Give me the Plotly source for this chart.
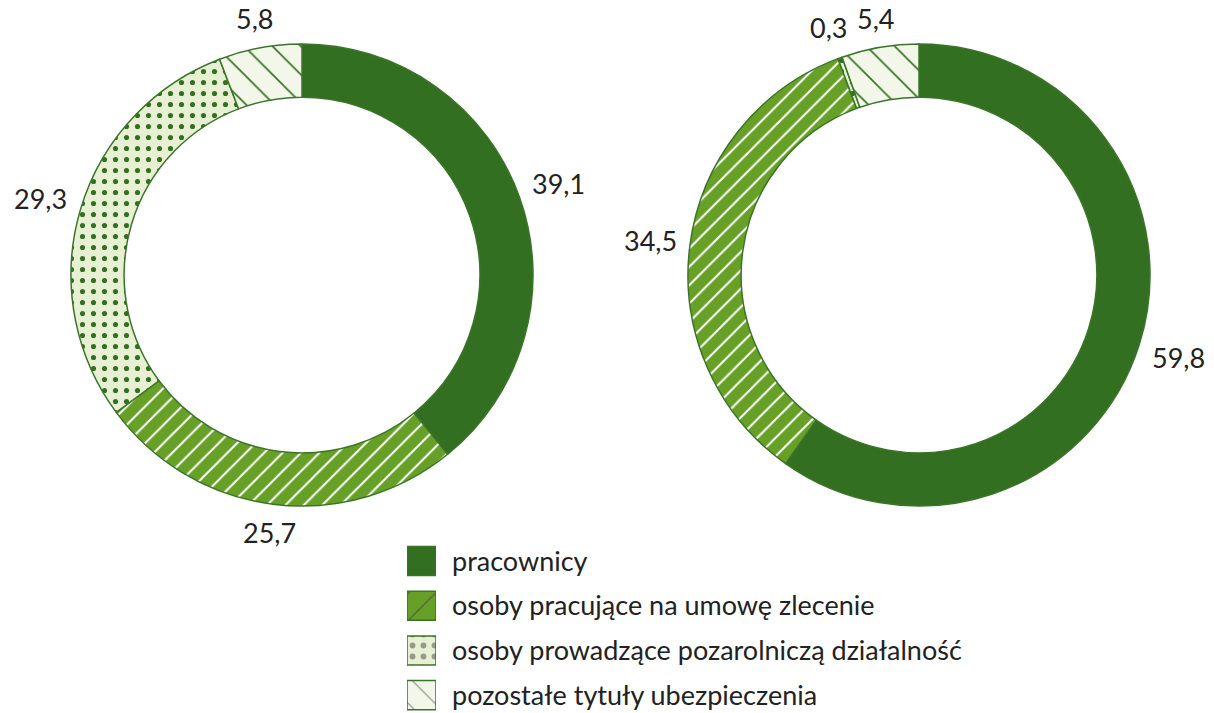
import math
import plotly.graph_objects as go

# kategorie
kategorie = [
    "pracownicy",
    "osoby pracujące na umowę zlecenie",
    "osoby prowadzące pozarolniczą działalność",
    "pozostałe tytuły ubezpieczenia",
]
# udział w % - lewy i prawy wykres
lewy = [39.1, 25.7, 29.3, 5.8]
prawy = [59.8, 34.5, 0.3, 5.4]

kolory_tla = ["#336f21", "#67a027", "#e8f0d3", "#f3f7ea"]
kolory_wzoru = ["#336f21", "#ffffff", "#336f21", "#336f21"]
wzory = ["", "/", ".", "\\"]
rozmiary = [10, 13, 11, 20]
gestosc = [0.2, 0.15, 0.17, 0.08]

obwodka = "#3b7428"
font = "Lato, 'Open Sans', sans-serif"

W, H = 1214, 713
R = 231          # promień w px
srodki = [(302, 275), (919, 275)]
ODSTEP = 14      # odstęp etykiety od pierścienia
POL_SZER, POL_WYS = 25, 11   # połowa rozmiaru etykiety

fig = go.Figure()
annotations = []

for wartosci, (cx, cy) in zip([lewy, prawy], srodki):
    fig.add_trace(go.Pie(
        labels=kategorie,
        values=wartosci,
        hole=0.77,
        sort=False,
        direction="clockwise",
        rotation=0,
        domain={"x": [(cx - R) / W, (cx + R) / W], "y": [1 - (cy + R) / H, 1 - (cy - R) / H]},
        marker={
            "colors": kolory_tla,
            "line": {"color": obwodka, "width": 1.5},
            "pattern": {
                "shape": wzory,
                "fgcolor": kolory_wzoru,
                "bgcolor": kolory_tla,
                "size": rozmiary,
                "solidity": gestosc,
            },
        },
        textinfo="none",
        showlegend=False,
        hoverinfo="label+value",
    ))

    # etykiety wartości na środku kąta każdego wycinka, tuż za pierścieniem
    suma = sum(wartosci)
    narast = 0
    for v in wartosci:
        kat = 2 * math.pi * (narast + v / 2) / suma
        narast += v
        s, c = math.sin(kat), math.cos(kat)
        r = R + ODSTEP + abs(s) * POL_SZER + abs(c) * POL_WYS
        annotations.append(dict(
            x=(cx + r * s) / W,
            y=1 - (cy - r * c) / H,
            xref="paper", yref="paper",
            text=f"{v:.1f}".replace(".", ","),
            showarrow=False,
            xanchor="center", yanchor="middle",
            font={"size": 27, "color": "#222222", "family": font},
        ))

# legenda jako poziome słupki z opisami na osi
fig.add_trace(go.Bar(
    x=[1] * len(kategorie),
    y=kategorie,
    orientation="h",
    width=0.65,
    marker={
        "color": kolory_tla,
        "line": {"color": obwodka, "width": 1.5},
        "pattern": {
            "shape": wzory,
            "fgcolor": kolory_wzoru,
            "bgcolor": kolory_tla,
            "size": [10, 19, 11, 19],
            "solidity": [0.2, 0.1, 0.22, 0.07],
        },
    },
    showlegend=False,
    hoverinfo="skip",
))

fig.update_layout(
    width=W,
    height=H,
    margin={"l": 0, "r": 0, "t": 0, "b": 0},
    paper_bgcolor="white",
    plot_bgcolor="white",
    showlegend=False,
    xaxis={
        "domain": [407 / W, 436 / W],
        "range": [0, 1],
        "visible": False,
        "fixedrange": True,
    },
    yaxis={
        "domain": [0, 1 - 541 / H],
        "range": [3.4, -0.45],
        "side": "right",
        "showgrid": False,
        "zeroline": False,
        "showline": False,
        "ticks": "",
        "ticklabelstandoff": 15,
        "tickfont": {"size": 27, "color": "#222222", "family": font},
        "fixedrange": True,
    },
    font={"family": font, "color": "#222222"},
    annotations=annotations,
)

fig.write_html(
    "out.html",
    post_script="document.body.style.margin = '0';",
    config={"displayModeBar": False},
)
